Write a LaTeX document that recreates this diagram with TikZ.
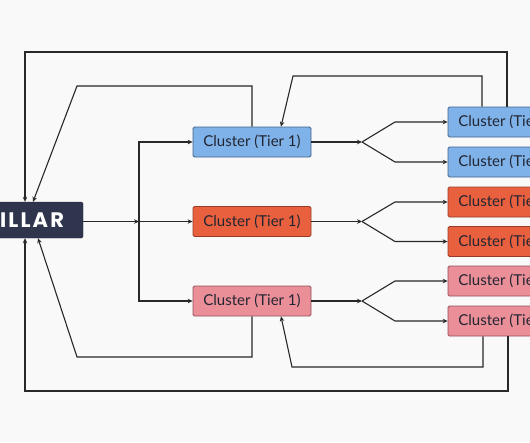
\documentclass[tikz,border=0pt]{standalone}
\usepackage{fontspec}
\setmainfont{Lato}
\newfontfamily\pfont[LetterSpace=10]{Poppins}
\usetikzlibrary{arrows.meta}
\definecolor{bgc}{RGB}{249,249,249}
\definecolor{navy}{RGB}{46,53,77}
\definecolor{bluef}{RGB}{126,178,232}
\definecolor{blued}{RGB}{70,100,140}
\definecolor{redf}{RGB}{232,96,62}
\definecolor{redd}{RGB}{150,60,40}
\definecolor{pinkf}{RGB}{234,142,152}
\definecolor{pinkd}{RGB}{150,80,90}
\definecolor{linec}{RGB}{40,40,40}
\definecolor{txt}{RGB}{35,38,50}
\tikzset{
  box/.style={rectangle, rounded corners=1.5pt, line width=0.8pt, minimum width=118pt, minimum height=30pt, inner sep=0pt, font=\fontsize{15}{17}\selectfont, text=txt},
  bluebox/.style={box, fill=bluef, draw=blued},
  redbox/.style={box, fill=redf, draw=redd},
  pinkbox/.style={box, fill=pinkf, draw=pinkd},
  pillarbox/.style={rectangle, rounded corners=1.5pt, fill=navy, draw=navy!80!black, minimum height=36pt, inner ysep=0pt, inner xsep=19pt, text width=85pt, align=right, text=white, font=\pfont\bfseries\fontsize{21}{23}\selectfont},
  conn/.style={line width=1.1pt, draw=linec},
  arr/.style={conn, -{Stealth[length=5pt,width=4.5pt]}},
  tick/.style={conn, -{Stealth[length=5pt,width=4.5pt]}}
}
\begin{document}
\begin{tikzpicture}[x=1pt,y=-1pt]
\fill[bgc] (0,0) rectangle (530,442);
\clip (0,0) rectangle (530,442);
\useasboundingbox (0,0) rectangle (530,442);
% nodes
\node[pillarbox] (pillar) at (21.5,220) {PILLAR};
\node[bluebox] (t1a) at (252,142) {Cluster (Tier 1)};
\node[redbox]  (t1b) at (252,221.5) {Cluster (Tier 1)};
\node[pinkbox] (t1c) at (252,301) {Cluster (Tier 1)};
\node[bluebox] (t2a) at (507,122) {Cluster (Tier 2)};
\node[bluebox] (t2b) at (507,162) {Cluster (Tier 2)};
\node[redbox]  (t2c) at (507,202) {Cluster (Tier 2)};
\node[redbox]  (t2d) at (507,241.5) {Cluster (Tier 2)};
\node[pinkbox] (t2e) at (507,281) {Cluster (Tier 2)};
\node[pinkbox] (t2f) at (507,321) {Cluster (Tier 2)};
% coordinates
\coordinate (j) at (139,221.5);
\coordinate (fa) at (362,142);
\coordinate (fb) at (362,221.5);
\coordinate (fc) at (362,301);
% pillar to tier 1
\draw[tick] (pillar.east |- j) -- (j);
\draw[arr] (j) -- (t1b.west);
\draw[arr] (j) |- (t1a.west);
\draw[arr] (j) |- (t1c.west);
% tier 1 to forks
\draw[tick] (t1a.east) -- (fa);
\draw[tick] (t1b.east) -- (fb);
\draw[tick] (t1c.east) -- (fc);
\draw[arr] (fa) -- (395,122) -- (t2a.west);
\draw[arr] (fa) -- (395,162) -- (t2b.west);
\draw[arr] (fb) -- (395,202) -- (t2c.west);
\draw[arr] (fb) -- (395,241.5) -- (t2d.west);
\draw[arr] (fc) -- (395,281) -- (t2e.west);
\draw[arr] (fc) -- (395,321) -- (t2f.west);
% feedback loops top
\draw[arr] (t2a.north -| 507,0) -- (507,52) -- (25,52) -- (pillar.north -| 25,0);
\draw[arr] (t2a.north -| 482,0) -- (482,76) -- (293,76) -- (t1a.north -| 281,0);
\draw[arr] (t1a.north) -- (252,86) -- (77,86) -- (pillar.north -| 33,0);
% feedback loops bottom
\draw[arr] (t1c.south) -- (252,357) -- (77,357) -- (pillar.south -| 38,0);
\draw[arr] (t2f.south -| 483,0) -- (483,367) -- (292,367) -- (t1c.south -| 281,0);
\draw[arr] (t2f.south -| 508,0) -- (508,391) -- (25,391) -- (pillar.south -| 25,0);
\end{tikzpicture}
\end{document}
